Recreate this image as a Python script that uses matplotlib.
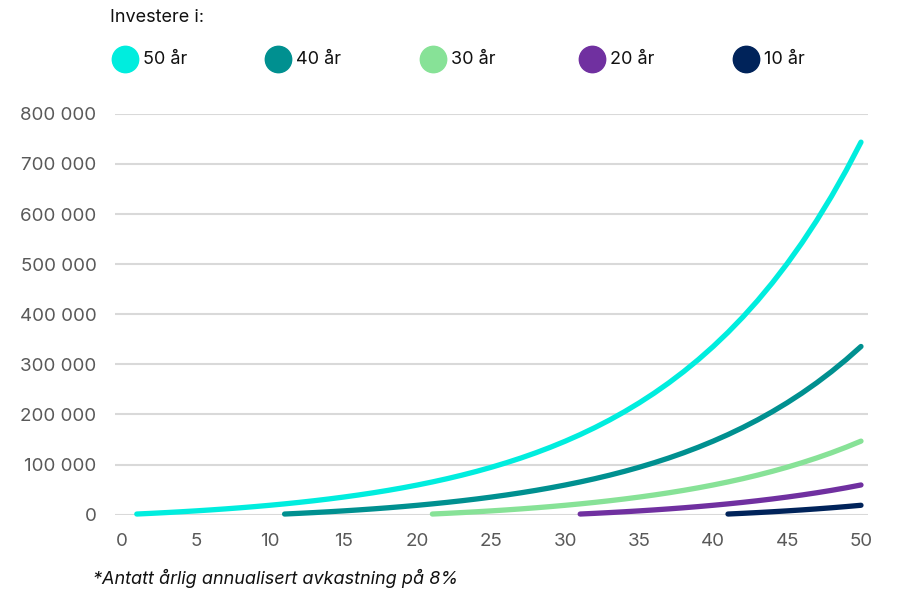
import matplotlib
matplotlib.use('agg')
import matplotlib.pyplot as plt
from matplotlib.lines import Line2D
from matplotlib.ticker import FuncFormatter

# portfolio value after n years of saving
value_by_years = [
    1296, 2696, 4211, 5840, 7603, 9507, 11564, 13785, 16184, 18775,
    21573, 24594, 27858, 31383, 35189, 39300, 43740, 48536, 53714, 59308,
    65348, 71872, 78918, 86527, 94745, 103621, 113207, 123559, 134740, 146815,
    159856, 173941, 189152, 205580, 223323, 242484, 263179, 285529, 309668, 335737,
    363892, 394300, 427140, 462607, 500911, 542280, 586959, 635211, 687324, 743606,
]
series_labels = ['50 år', '40 år', '30 år', '20 år', '10 år']
series_years = [50, 40, 30, 20, 10]
end_year = 50
series_colors = ['#00EDDE', '#009090', '#87E297', '#7030A0', '#00235A']

x_ticks = [0, 5, 10, 15, 20, 25, 30, 35, 40, 45, 50]
y_ticks = [0, 100000, 200000, 300000, 400000, 500000, 600000, 700000, 800000]

plt.rcParams['font.family'] = ['Inter', 'DejaVu Sans']

fig = plt.figure(figsize=(9.01, 6), dpi=100)
ax = fig.add_axes([0.1272, 0.1422, 0.8366, 0.668])

for label, years, color in zip(series_labels, series_years, series_colors):
    start = end_year - years + 1
    xs = list(range(start, end_year + 1))
    ys = value_by_years[:years]
    ax.plot(xs, ys, color=color, lw=3.8, solid_capstyle='round',
            solid_joinstyle='round', clip_on=False, zorder=3)

ax.set_xlim(-0.5, 50.5)
ax.set_ylim(0, 800000)
ax.set_xticks(x_ticks)
ax.set_yticks(y_ticks)
ax.yaxis.set_major_formatter(FuncFormatter(lambda v, p: f'{int(v):,}'.replace(',', ' ')))
ax.grid(axis='y', color='#d9d9d9', lw=1.5, zorder=0)
ax.grid(axis='x', visible=False)
for s in ax.spines.values():
    s.set_visible(False)
ax.tick_params(axis='both', length=0, labelsize=13.5, colors='#595959')
ax.tick_params(axis='y', pad=13)
ax.tick_params(axis='x', pad=13)

# legend across the top
fig.text(110 / 901, 1 - 18 / 600, 'Investere i:', fontsize=13, va='center', ha='left', color='#111111')
legend_x = [125, 278, 433, 592, 746]
for lx, label, color in zip(legend_x, series_labels, series_colors):
    fig.add_artist(Line2D([lx / 901], [1 - 59 / 600], marker='o', markersize=19,
                          color=color, transform=fig.transFigure))
    fig.text((lx + 18) / 901, 1 - 59 / 600, label, fontsize=13, va='center', ha='left', color='#111111')

fig.text(93 / 901, 1 - 578 / 600, '*Antatt årlig annualisert avkastning på 8%',
         fontsize=13, style='italic', va='center', ha='left', color='#111111')

fig.savefig('out.png', dpi=100)
